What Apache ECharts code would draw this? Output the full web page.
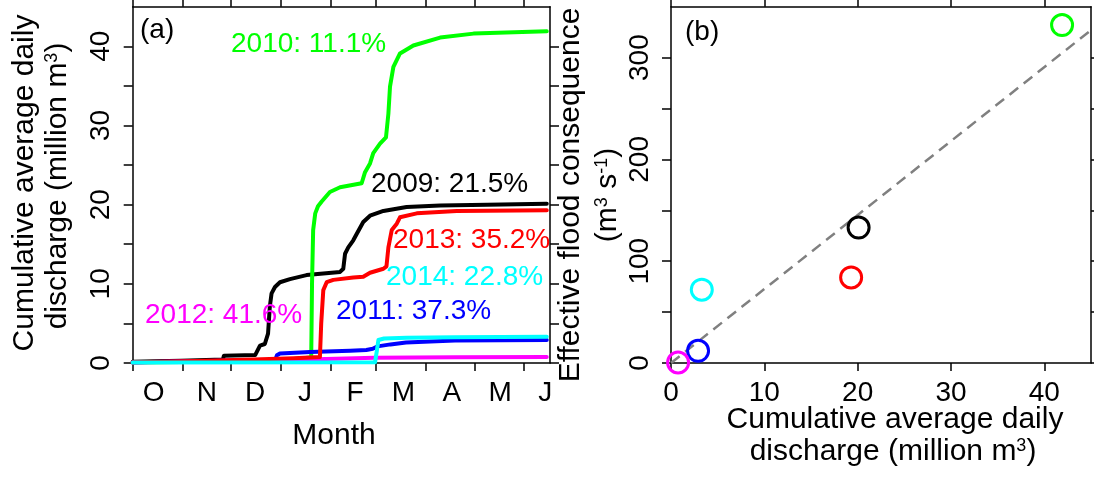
<!DOCTYPE html>
<html>
<head>
<meta charset="utf-8">
<script src="https://cdn.jsdelivr.net/npm/echarts@6/dist/echarts.min.js"></script>
<style>
  html, body { margin: 0; padding: 0; background: #fff; }
  #chart { width: 1094px; height: 478px; }
</style>
</head>
<body>
<div id="chart"></div>
<script>
// Panel (a): x is days since 1 October (water year), y is cumulative discharge (million m3)
const monthTickDays = [0, 31, 61, 92, 123, 151, 182, 212, 243];
const monthLabelDays = [13, 46, 76, 107, 138, 168, 198, 228, 256];
const monthLetters = ['O', 'N', 'D', 'J', 'F', 'M', 'A', 'M', 'J'];

const days2009 = [0, 30, 56, 56.6, 76, 79, 82, 84, 85.1, 86.2, 88.3, 91.4, 97.6, 107.9, 128.7, 130.7, 131.8, 133.8, 136.9, 139, 143.1, 147.3, 155.6, 170, 190.8, 220, 257];
const q2009    = [0.15, 0.3, 0.45, 0.92, 1.0, 2.2, 2.4, 3.7, 7.1, 8.8, 9.6, 10.2, 10.6, 11.1, 11.5, 11.9, 13.8, 14.6, 15.5, 16.3, 17.8, 18.6, 19.2, 19.7, 19.9, 20.0, 20.1];

const days2010 = [0, 60, 100, 110.8, 111.3, 112, 113.3, 115, 117.3, 122.4, 128.7, 142.1, 144.2, 147.3, 149.3, 153.5, 157.2, 158.7, 159.7, 161.8, 165.9, 174.2, 190.8, 211.5, 257];
const q2010    = [0.05, 0.2, 0.5, 0.7, 10, 16.8, 18.9, 19.8, 20.4, 21.6, 22.2, 22.7, 24.1, 25.2, 26.5, 27.7, 28.5, 31.5, 34.9, 37.4, 39.1, 40.1, 41.1, 41.6, 41.9];

const days2011 = [0, 30, 60, 88.5, 89.5, 91.4, 110, 135, 145, 149, 152, 160, 169.6, 200, 257];
const q2011    = [0.1, 0.2, 0.3, 0.4, 0.97, 1.2, 1.4, 1.55, 1.65, 1.8, 2.1, 2.35, 2.6, 2.85, 2.9];

const days2012 = [0, 60, 120, 150, 200, 257];
const q2012    = [0.05, 0.3, 0.5, 0.65, 0.72, 0.76];

const days2013 = [0, 40, 74.8, 100, 116.2, 117, 118.3, 120.4, 124.5, 136.9, 143.1, 147.3, 155.6, 157.5, 158.7, 160.8, 163.9, 165.9, 176.3, 201.1, 257];
const q2013    = [0.1, 0.25, 0.45, 0.6, 0.76, 5, 9.2, 10.2, 10.5, 10.8, 10.9, 11.4, 11.9, 12.2, 14.6, 16.8, 17.6, 18.4, 18.9, 19.2, 19.3];

const days2014 = [0, 150.4, 151.5, 152.5, 156, 170, 200, 257];
const q2014    = [0.05, 0.08, 1.5, 2.9, 3.1, 3.2, 3.25, 3.3];

// Panel (b): effective flood consequence (m3 s-1) per year
const years      = ['2009', '2010', '2011', '2012', '2013', '2014'];
const yearColors = ['#000000', '#00ff00', '#0000ff', '#ff00ff', '#ff0000', '#00ffff'];
const floodConsequence = [133, 332, 12, 0.5, 84, 72];
const fitLineX = [0, 45];
const fitLineY = [0, 327];

// Percentage labels of panel (a)
const shareLabels = ['2009: 21.5%', '2010: 11.1%', '2011: 37.3%', '2012: 41.6%', '2013: 35.2%', '2014: 22.8%'];

const FONT = '"Liberation Sans", Arial, Helvetica, sans-serif';
const pairs = (xs, ys) => xs.map((x, i) => [x, ys[i]]);

const dischargeSeries = [
  pairs(days2009, q2009), pairs(days2010, q2010), pairs(days2011, q2011),
  pairs(days2012, q2012), pairs(days2013, q2013), pairs(days2014, q2014)
];
const finalDischarge = [q2009, q2010, q2011, q2012, q2013, q2014].map(a => a[a.length - 1]);

const axisLineStyle = { show: true, onZero: false, lineStyle: { color: '#000', width: 1.5 } };
function tickStyle(values, len) {
  return { show: true, inside: false, length: len, customValues: values, lineStyle: { color: '#000', width: 1.5 } };
}
const hiddenLabel = { show: false };
const labelBase = { color: '#000', fontSize: 28, fontFamily: FONT };

const grids = [
  { left: 132.7, top: 6.7, width: 417.3, height: 356.3 },
  { left: 671, top: 6.7, width: 420, height: 356.3 }
];

const xAxes = [
  { type: 'value', gridIndex: 0, position: 'bottom', min: 0, max: 259,
    axisLine: axisLineStyle, axisTick: tickStyle(monthTickDays, 8), splitLine: { show: false },
    axisLabel: Object.assign({}, labelBase, { margin: 16, customValues: monthLabelDays,
      formatter: v => { const i = monthLabelDays.indexOf(v); return i >= 0 ? monthLetters[i] : ''; } }) },
  { type: 'value', gridIndex: 0, position: 'top', min: 0, max: 259,
    axisLine: axisLineStyle, axisTick: tickStyle(monthTickDays, 8), splitLine: { show: false }, axisLabel: hiddenLabel },
  { type: 'value', gridIndex: 1, position: 'bottom', min: 0, max: 45,
    axisLine: axisLineStyle, axisTick: tickStyle([0, 10, 20, 30, 40], 8), splitLine: { show: false },
    axisLabel: Object.assign({}, labelBase, { margin: 16, customValues: [0, 10, 20, 30, 40] }) },
  { type: 'value', gridIndex: 1, position: 'top', min: 0, max: 45,
    axisLine: axisLineStyle, axisTick: tickStyle([0, 10, 20, 30, 40], 8), splitLine: { show: false }, axisLabel: hiddenLabel }
];

const yTicksA = [0, 5, 10, 15, 20, 25, 30, 35, 40];
const yTicksB = [0, 50, 100, 150, 200, 250, 300];
const yAxes = [
  { type: 'value', gridIndex: 0, position: 'left', min: 0, max: 45,
    axisLine: axisLineStyle, axisTick: tickStyle(yTicksA, 9), splitLine: { show: false },
    axisLabel: Object.assign({}, labelBase, { rotate: 90, margin: 17, customValues: [0, 10, 20, 30, 40] }) },
  { type: 'value', gridIndex: 0, position: 'right', min: 0, max: 45,
    axisLine: axisLineStyle, axisTick: tickStyle(yTicksA, 9), splitLine: { show: false }, axisLabel: hiddenLabel },
  { type: 'value', gridIndex: 1, position: 'left', min: 0, max: 350,
    axisLine: axisLineStyle, axisTick: tickStyle(yTicksB, 9), splitLine: { show: false },
    axisLabel: Object.assign({}, labelBase, { rotate: 90, margin: 17, customValues: [0, 100, 200, 300] }) },
  { type: 'value', gridIndex: 1, position: 'right', min: 0, max: 350,
    axisLine: axisLineStyle, axisTick: tickStyle(yTicksB, 9), splitLine: { show: false }, axisLabel: hiddenLabel }
];

const series = [];
years.forEach((yr, i) => {
  series.push({
    name: yr, type: 'line', xAxisIndex: 0, yAxisIndex: 0,
    data: dischargeSeries[i], showSymbol: false, symbol: 'none', smooth: false,
    lineStyle: { color: yearColors[i], width: 4, cap: 'round', join: 'round' },
    z: 2 + i, silent: true
  });
});
series.push({
  name: 'fit', type: 'line', xAxisIndex: 2, yAxisIndex: 2,
  data: pairs(fitLineX, fitLineY), showSymbol: false, symbol: 'none',
  lineStyle: { color: '#808080', width: 2.5, type: [11, 7] }, z: 2, silent: true
});
series.push({
  name: 'consequence', type: 'scatter', xAxisIndex: 2, yAxisIndex: 2,
  symbol: 'circle', symbolSize: 21, z: 3, silent: true,
  data: years.map((yr, i) => ({
    value: [finalDischarge[i], floodConsequence[i]],
    itemStyle: { color: 'rgba(0,0,0,0)', borderColor: yearColors[i], borderWidth: 3, opacity: 1 }
  }))
});

// Text placed on the page
const sharePos = [[371, 184], [231, 44], [336, 311], [145, 315], [393, 240], [386, 277]];
const graphics = [
  { type: 'text', x: 140, y: 30, style: { text: '(a)', fontSize: 28, fontFamily: FONT, fill: '#000', align: 'left', verticalAlign: 'middle' } },
  { type: 'text', x: 685, y: 32, style: { text: '(b)', fontSize: 28, fontFamily: FONT, fill: '#000', align: 'left', verticalAlign: 'middle' } },
  { type: 'text', x: 334, y: 436, style: { text: 'Month', fontSize: 30, fontFamily: FONT, fill: '#000', align: 'center', verticalAlign: 'middle' } },
  { type: 'text', x: 25, y: 183, rotation: Math.PI / 2,
    style: { text: 'Cumulative average daily', fontSize: 30, fontFamily: FONT, fill: '#000', align: 'center', verticalAlign: 'middle' } },
  { type: 'text', x: 58, y: 186, rotation: Math.PI / 2,
    style: { text: '{n|discharge (million m}{s|3}{n|)}', fontFamily: FONT, fill: '#000', align: 'center', verticalAlign: 'middle',
      rich: { n: { fontSize: 30, fontFamily: FONT, fill: '#000' }, s: { fontSize: 18, fontFamily: FONT, fill: '#000', verticalAlign: 'top' } } } },
  { type: 'text', x: 571, y: 195, rotation: Math.PI / 2,
    style: { text: 'Effective flood consequence', fontSize: 30, fontFamily: FONT, fill: '#000', align: 'center', verticalAlign: 'middle' } },
  { type: 'text', x: 608, y: 195, rotation: Math.PI / 2,
    style: { text: '{n|(m}{s|3}{n| s}{s|-1}{n|)}', fontFamily: FONT, fill: '#000', align: 'center', verticalAlign: 'middle',
      rich: { n: { fontSize: 30, fontFamily: FONT, fill: '#000' }, s: { fontSize: 18, fontFamily: FONT, fill: '#000', verticalAlign: 'top' } } } },
  { type: 'text', x: 895, y: 420, style: { text: 'Cumulative average daily', fontSize: 30, fontFamily: FONT, fill: '#000', align: 'center', verticalAlign: 'middle' } },
  { type: 'text', x: 893, y: 452,
    style: { text: '{n|discharge (million m}{s|3}{n|)}', fontFamily: FONT, fill: '#000', align: 'center', verticalAlign: 'middle',
      rich: { n: { fontSize: 30, fontFamily: FONT, fill: '#000' }, s: { fontSize: 18, fontFamily: FONT, fill: '#000', verticalAlign: 'top' } } } }
];
shareLabels.forEach((t, i) => {
  graphics.push({ type: 'text', x: sharePos[i][0], y: sharePos[i][1], z: 20,
    style: { text: t, fontSize: 28, fontFamily: FONT, fill: yearColors[i], align: 'left', verticalAlign: 'middle' } });
});

const chart = echarts.init(document.getElementById('chart'), null, { renderer: 'canvas' });
chart.setOption({
  animation: false,
  backgroundColor: '#fff',
  grid: grids.map(g => Object.assign({ containLabel: false, outerBoundsMode: 'none' }, g)),
  xAxis: xAxes,
  yAxis: yAxes,
  series: series,
  graphic: graphics
});
</script>
</body>
</html>
